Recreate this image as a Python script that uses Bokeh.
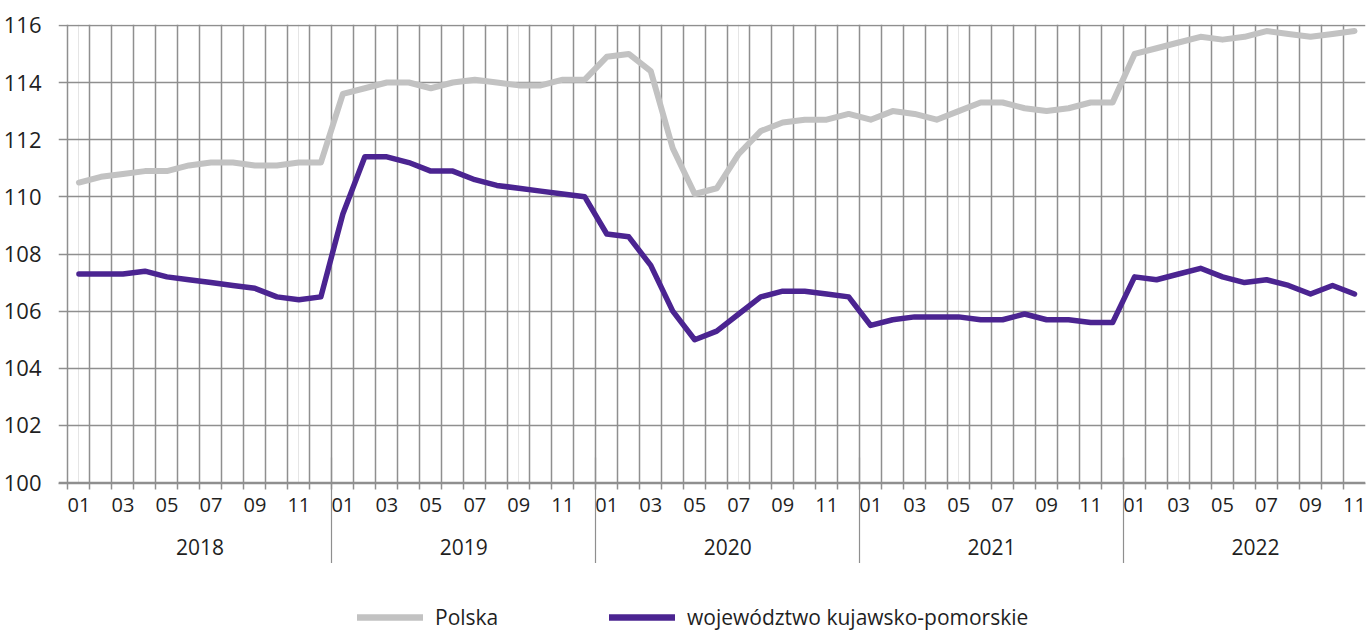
from bokeh.plotting import figure
from bokeh.layouts import column
from bokeh.models import Range1d, FixedTicker, LinearAxis, Legend, LegendItem, Grid
from bokeh.embed import file_html
from bokeh.resources import INLINE

# ---- data ----
years = ["2018", "2019", "2020", "2021", "2022"]
months_in_year = [12, 12, 12, 12, 11]
month_labels = ["01", "02", "03", "04", "05", "06", "07", "08", "09", "10", "11", "12"]
y_ticks = [100, 102, 104, 106, 108, 110, 112, 114, 116]
series_names = ["Polska", "województwo kujawsko-pomorskie"]

polska = [
    110.5, 110.7, 110.8, 110.9, 110.9, 111.1, 111.2, 111.2, 111.1, 111.1, 111.2, 111.2,
    113.6, 113.8, 114.0, 114.0, 113.8, 114.0, 114.1, 114.0, 113.9, 113.9, 114.1, 114.1,
    114.9, 115.0, 114.4, 111.7, 110.1, 110.3, 111.5, 112.3, 112.6, 112.7, 112.7, 112.9,
    112.7, 113.0, 112.9, 112.7, 113.0, 113.3, 113.3, 113.1, 113.0, 113.1, 113.3, 113.3,
    115.0, 115.2, 115.4, 115.6, 115.5, 115.6, 115.8, 115.7, 115.6, 115.7, 115.8,
]
kujawsko = [
    107.3, 107.3, 107.3, 107.4, 107.2, 107.1, 107.0, 106.9, 106.8, 106.5, 106.4, 106.5,
    109.4, 111.4, 111.4, 111.2, 110.9, 110.9, 110.6, 110.4, 110.3, 110.2, 110.1, 110.0,
    108.7, 108.6, 107.6, 106.0, 105.0, 105.3, 105.9, 106.5, 106.7, 106.7, 106.6, 106.5,
    105.5, 105.7, 105.8, 105.8, 105.8, 105.7, 105.7, 105.9, 105.7, 105.7, 105.6, 105.6,
    107.2, 107.1, 107.3, 107.5, 107.2, 107.0, 107.1, 106.9, 106.6, 106.9, 106.6,
]

FONT = "Open Sans"
TEXT = "#1f1f1f"
GRID = "#8f8f8f"
GREY = "#c2c2c2"
PURPLE = "#4b2491"

n = len(polska)
x = list(range(n))

# month label positions / overrides, year boundaries
month_ticks, month_over = [], {}
year_starts = []
idx = 0
for y, m in zip(years, months_in_year):
    year_starts.append(idx)
    for k in range(m):
        if k % 2 == 0:
            month_ticks.append(idx + k)
            month_over[idx + k] = month_labels[k]
    idx += m
boundaries = [i - 0.5 for i in range(n + 1)]
year_bounds = [s - 0.5 for s in year_starts[1:]]
year_centers = [s - 0.5 + 6 for s in year_starts]
year_over = {c: y for c, y in zip(year_centers, years)}

W = 1366
p = figure(width=W, height=563, output_backend="svg", toolbar_location=None,
           x_range=Range1d(-0.93, n - 0.5), y_range=Range1d(99.97, 116.03),
           x_axis_location=None, min_border_left=57, min_border_top=24,
           min_border_right=1, min_border_bottom=60)
p.outline_line_color = None
p.background_fill_color = "white"
p.border_fill_color = "white"

# y axis
p.yaxis.ticker = FixedTicker(ticks=y_ticks)
p.yaxis.axis_line_color = None
p.yaxis.major_tick_line_color = None
p.yaxis.minor_tick_line_color = None
p.yaxis.major_label_text_font = FONT
p.yaxis.major_label_text_font_size = "22px"
p.yaxis.major_label_text_color = TEXT
p.yaxis.major_label_standoff = 11

p.ygrid.ticker = FixedTicker(ticks=y_ticks)
p.ygrid.grid_line_color = GRID
p.ygrid.grid_line_width = 1.5
p.add_layout(Grid(dimension=0, ticker=FixedTicker(ticks=boundaries),
                  grid_line_color=GRID, grid_line_width=1.5))

# month axis
max_ = LinearAxis(ticker=FixedTicker(ticks=month_ticks, minor_ticks=boundaries[:-1]),
                  major_label_overrides=month_over,
                  major_tick_in=0, major_tick_out=0,
                  minor_tick_in=0, minor_tick_out=6,
                  minor_tick_line_color=GRID, minor_tick_line_width=1.5,
                  axis_line_color=GRID, axis_line_width=1.5,
                  major_label_text_font=FONT, major_label_text_font_size="20px",
                  major_label_text_color=TEXT, major_label_standoff=8)
p.add_layout(max_, "below")

# year axis (labels only)
yax = LinearAxis(ticker=FixedTicker(ticks=year_centers),
                 major_label_overrides=year_over,
                 major_tick_in=0, major_tick_out=0,
                 minor_tick_in=0, minor_tick_out=0,
                 axis_line_color=None,
                 major_label_text_font=FONT, major_label_text_font_size="21px",
                 major_label_text_color=TEXT, major_label_standoff=24)
p.add_layout(yax, "below")

# year separators (ticks reaching up to the plot)
sep = LinearAxis(ticker=FixedTicker(ticks=[], minor_ticks=year_bounds),
                 major_tick_in=0, major_tick_out=0,
                 minor_tick_in=100, minor_tick_out=6,
                 minor_tick_line_color=GRID, minor_tick_line_width=1.2,
                 axis_line_color=None, major_label_text_font_size="0px")
p.add_layout(sep, "below")

r1 = p.line(x, polska, line_color=GREY, line_width=6, line_join="round", line_cap="round")
r2 = p.line(x, kujawsko, line_color=PURPLE, line_width=5.5, line_join="round", line_cap="round")

# legend in its own strip below the chart (sample lines lie outside the visible range)
lg = figure(width=W, height=68, output_backend="svg", toolbar_location=None,
            x_range=Range1d(0, 1), y_range=Range1d(0, 1),
            x_axis_location=None, y_axis_location=None,
            min_border=0)
lg.outline_line_color = None
lg.xgrid.visible = False
lg.ygrid.visible = False
g1 = lg.line([-2, -1], [-2, -2], line_color=GREY, line_width=6.5, line_cap="round")
g2 = lg.line([-2, -1], [-2, -2], line_color=PURPLE, line_width=6.5, line_cap="round")
legend = Legend(items=[LegendItem(label=series_names[0], renderers=[g1]),
                       LegendItem(label=series_names[1], renderers=[g2])],
                orientation="horizontal", location=(299, 0),
                glyph_width=66, glyph_height=20, label_height=20, label_standoff=12,
                label_width=150, spacing=24,
                label_text_font=FONT, label_text_font_size="21px", label_text_color=TEXT,
                border_line_color=None, background_fill_alpha=0, padding=0, margin=0)
lg.add_layout(legend)

layout = column(p, lg, spacing=0)
open("out.html", "w").write(file_html(layout, INLINE))
